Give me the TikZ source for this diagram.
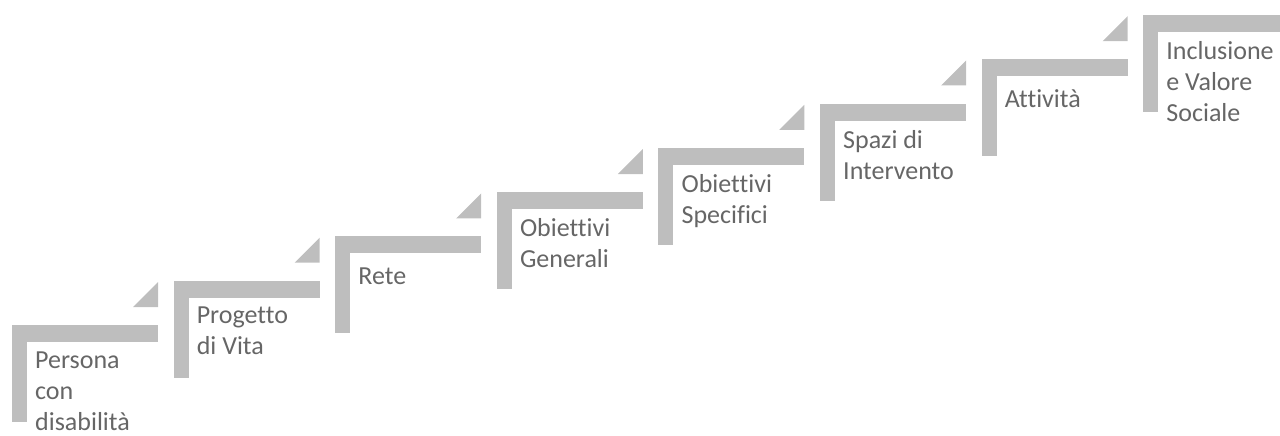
\documentclass[tikz,border=0pt]{standalone}
\usepackage{fontspec}
\setmainfont[Ligatures=NoCommon]{Carlito}
\usepackage{tikz}
\usetikzlibrary{calc}
\definecolor{stepgray}{RGB}{190,190,190}
\definecolor{labelgray}{RGB}{102,102,102}
\newcommand{\createstep}[2]{\fill[stepgray] ( #1 , #2 ) rectangle ( #1 + 146 , #2 + 17 ); \fill[stepgray] ( #1 , #2 ) rectangle ( #1 + 15 , #2 + 97 ); \fill[stepgray] ( #1 + 121 , #2 - 18 ) -- ( #1 + 146 , #2 - 18 ) -- ( #1 + 146 , #2 - 43 ) -- cycle;}

\begin{document}
\begin{tikzpicture}[x=1pt,y=-1pt,
    steplabel/.style={anchor=north west, inner sep=0pt, align=left, text=labelgray,
        font=\fontsize{26}{31}\selectfont, execute at begin node=\strut}]
    \useasboundingbox (0,0) rectangle (1280,436);
    \clip (0,0) rectangle (1280,436);
        \foreach \i/\txt in {0/{Persona\\con\\disabilità}, 1/{Progetto\\di Vita}, 2/{Rete},
            3/{Obiettivi\\Generali}, 4/{Obiettivi\\Specifici}, 5/{Spazi di\\Intervento},
            6/{Attività}, 7/{Inclusione\\e Valore\\Sociale}} {
            \pgfmathsetmacro\sx{12+161.6*\i}
            \pgfmathsetmacro\sy{325-44.3*\i}
            \createstep{\sx}{\sy}
            % first baseline 48 below the bar top
            \node[steplabel] (s\i) at (\sx+23, \sy+48-0.7*31) {\txt};}
        \end{tikzpicture}
\end{document}
